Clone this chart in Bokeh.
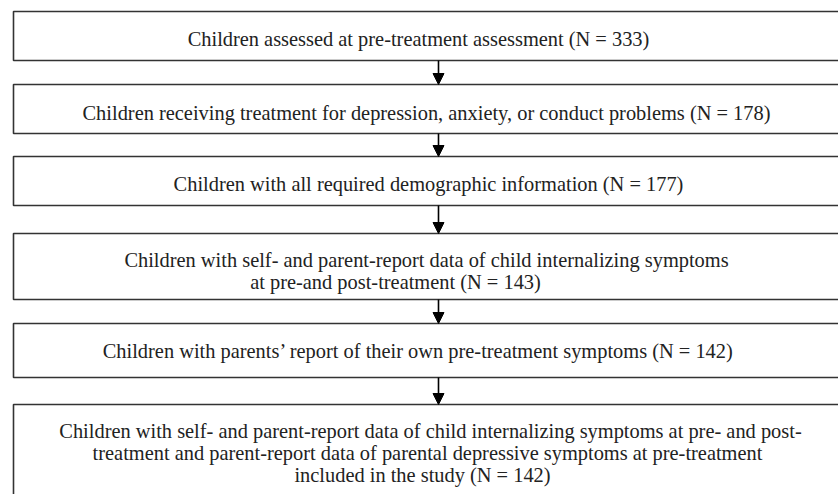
from bokeh.plotting import figure
from bokeh.models import ColumnDataSource, Arrow, NormalHead, Range1d
from bokeh.core.properties import value
from bokeh.embed import file_html
from bokeh.resources import INLINE

# ---- data ----
counts = [333, 178, 177, 143, 142, 142]
box_lines = [
    ["Children assessed at pre-treatment assessment"],
    ["Children receiving treatment for depression, anxiety, or conduct problems"],
    ["Children with all required demographic information"],
    ["Children with self- and parent-report data of child internalizing symptoms",
     "at pre-and post-treatment"],
    ["Children with parents\u2019 report of their own pre-treatment symptoms"],
    ["Children with self- and parent-report data of child internalizing symptoms at pre- and post-",
     "treatment and parent-report data of parental depressive symptoms at pre-treatment",
     "included in the study"],
]

# ---- layout (pixel frame, y downward) ----
W, H = 838, 494
box_top = [11, 84, 156, 233, 323, 404]
box_bot = [60, 133, 205, 299, 377, 510]
box_left, box_right = 13, 850
arrow_x = 438
first_baseline_off = [27, 28, 27, 26, 27, 26]
line_gap = 22
line_centers = [[418], [426], [428], [426, 395], [418], [430, 427, 422]]

p = figure(width=W, height=H, output_backend="svg", toolbar_location=None,
           x_range=Range1d(0, W), y_range=Range1d(H, 0),
           min_border=0, outline_line_color=None)
p.axis.visible = False
p.grid.visible = False
p.background_fill_color = "white"

line_col = "#333333"
# boxes
p.quad(left=[box_left] * len(box_top), right=[box_right] * len(box_top),
       top=box_top, bottom=box_bot, fill_color=None,
       line_color=line_col, line_width=1.6)

# arrows
for i in range(len(box_top) - 1):
    p.add_layout(Arrow(end=NormalHead(size=11, fill_color="black", line_color="black", line_width=1),
                       x_start=arrow_x, y_start=box_bot[i],
                       x_end=arrow_x, y_end=box_top[i + 1],
                       line_color="black", line_width=1.6))

# texts
xs, ys, txt = [], [], []
for i, lines in enumerate(box_lines):
    lines = list(lines)
    lines[-1] = lines[-1] + f" (N = {counts[i]})"
    for j, t in enumerate(lines):
        xs.append(line_centers[i][j])
        ys.append(box_top[i] + first_baseline_off[i] + j * line_gap)
        txt.append(t)

src = ColumnDataSource(dict(x=xs, y=ys, t=txt))
p.text(x="x", y="y", text="t", source=src, text_font=value("Liberation Serif"),
       text_font_size="20.4px", text_align="center", text_baseline="alphabetic",
       text_color="#222222")

open("out.html", "w").write(file_html(p, INLINE))
